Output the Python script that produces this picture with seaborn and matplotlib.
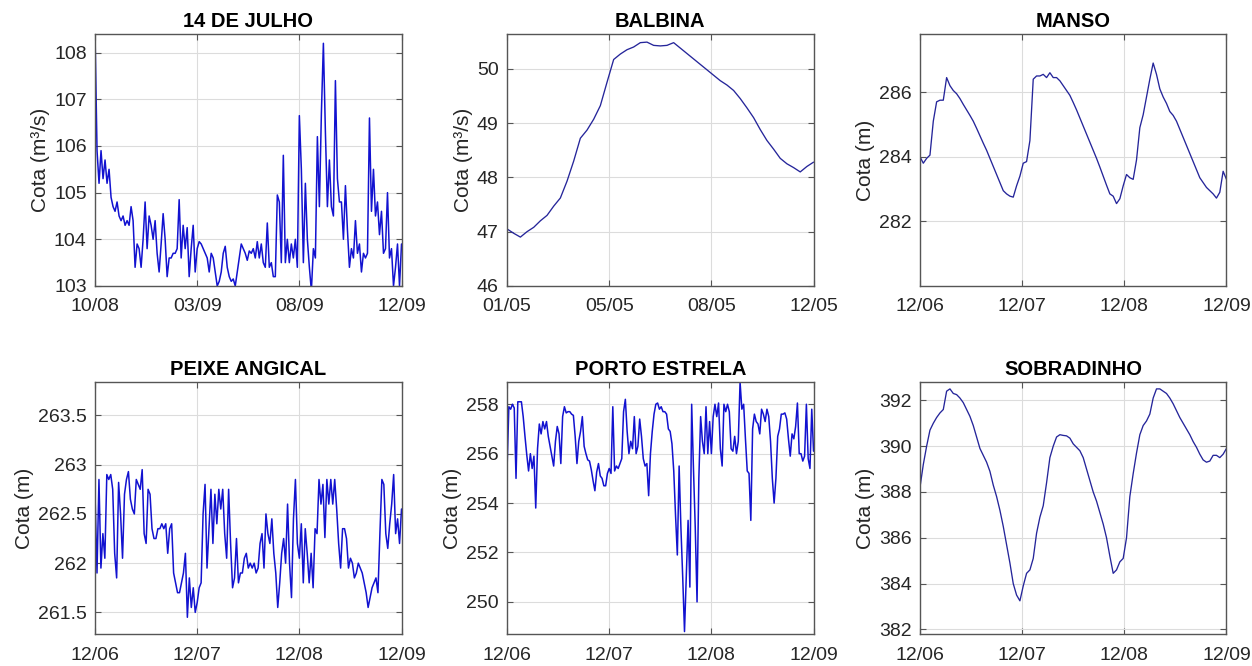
import numpy as np
import pandas as pd
import matplotlib
matplotlib.use("Agg")
import matplotlib.pyplot as plt
import seaborn as sns

# ---------------- data ----------------
titles = ["14 DE JULHO", "BALBINA", "MANSO", "PEIXE ANGICAL", "PORTO ESTRELA", "SOBRADINHO"]
ylabels = ["Cota (m³/s)", "Cota (m³/s)", "Cota (m)", "Cota (m)", "Cota (m)", "Cota (m)"]

xlabels_julho = ["10/08", "03/09", "08/09", "12/09"]
xlabels_balbina = ["01/05", "05/05", "08/05", "12/05"]
xlabels_std = ["12/06", "12/07", "12/08", "12/09"]

julho = [108.4, 105.9, 105.2, 105.9, 105.3, 105.7, 105.2, 105.5, 104.9, 104.7, 104.6, 104.8, 104.5,
         104.4, 104.5, 104.3, 104.4, 104.3, 104.7, 104.4, 103.4, 103.9, 103.8, 103.4, 104.0, 104.8,
         103.8, 104.5, 104.3, 104.0, 104.4, 103.7, 103.3, 103.9, 104.55, 104.0, 103.2, 103.6, 103.6,
         103.7, 103.7, 103.8, 104.85, 103.6, 104.3, 103.8, 104.25, 103.2, 103.8, 104.3, 103.3, 103.8,
         103.95, 103.9, 103.8, 103.7, 103.6, 103.3, 103.7, 103.6, 103.3, 103.0, 103.1, 103.3, 103.7,
         103.85, 103.4, 103.2, 103.1, 103.15, 103.0, 103.3, 103.6, 103.9, 103.8, 103.7, 103.55, 103.75,
         103.7, 103.8, 103.6, 103.95, 103.6, 103.9, 103.5, 103.4, 104.35, 103.4, 103.5, 103.2, 103.2,
         104.95, 104.8, 103.5, 105.8, 103.5, 104.0, 103.5, 103.9, 103.6, 104.0, 103.4, 106.65, 105.5,
         103.5, 105.2, 104.0, 103.4, 102.9, 103.8, 103.6, 106.2, 104.7, 106.7, 108.2, 106.3, 104.7,
         105.7, 104.7, 104.5, 107.4, 105.3, 104.8, 104.8, 104.0, 105.15, 104.2, 103.4, 103.8, 103.6,
         104.4, 103.7, 103.9, 103.3, 103.7, 103.6, 103.7, 106.6, 104.6, 105.5, 104.5, 104.8, 104.1,
         104.6, 103.7, 103.8, 105.0, 103.6, 103.8, 103.0, 103.4, 103.9, 103.0, 103.9]

balbina = [47.05, 46.97, 46.9, 47.0, 47.08, 47.2, 47.3, 47.47, 47.62, 47.93, 48.3, 48.72, 48.87,
           49.07, 49.32, 49.75, 50.17, 50.27, 50.35, 50.4, 50.48, 50.49, 50.43, 50.42, 50.43, 50.48,
           50.38, 50.28, 50.18, 50.08, 49.98, 49.88, 49.78, 49.7, 49.6, 49.45, 49.28, 49.1, 48.88,
           48.68, 48.52, 48.35, 48.25, 48.18, 48.1, 48.2, 48.28]

manso = [284.0, 283.8, 283.95, 284.05, 285.1, 285.7, 285.75, 285.75, 286.45, 286.2, 286.05, 285.95,
         285.8, 285.62, 285.45, 285.28, 285.1, 284.88, 284.65, 284.42, 284.2, 283.95, 283.7, 283.45,
         283.2, 282.95, 282.85, 282.78, 282.75, 283.1, 283.4, 283.8, 283.85, 284.5, 286.4, 286.5,
         286.5, 286.55, 286.45, 286.6, 286.45, 286.45, 286.35, 286.2, 286.05, 285.9, 285.68, 285.45,
         285.2, 284.95, 284.7, 284.45, 284.2, 283.95, 283.68, 283.4, 283.12, 282.85, 282.78, 282.55,
         282.7, 283.1, 283.45, 283.35, 283.3, 283.9, 284.9, 285.3, 285.85, 286.4, 286.9, 286.55,
         286.1, 285.85, 285.65, 285.4, 285.28, 285.1, 284.85, 284.6, 284.35, 284.1, 283.85, 283.6,
         283.35, 283.2, 283.05, 282.95, 282.85, 282.72, 282.9, 283.55, 283.3]

peixe = [262.7, 261.9, 262.85, 261.95, 262.3, 262.05, 262.9, 262.85, 262.9, 262.75, 262.1, 261.85,
         262.82, 262.5, 262.05, 262.7, 262.85, 262.93, 262.65, 262.55, 262.5, 262.85, 262.8, 262.75,
         262.95, 262.3, 262.2, 262.75, 262.7, 262.35, 262.25, 262.25, 262.35, 262.35, 262.4, 262.35,
         262.4, 262.1, 262.35, 262.4, 261.9, 261.8, 261.7, 261.7, 261.8, 261.9, 262.1, 261.45,
         261.85, 261.55, 261.75, 261.5, 261.6, 261.75, 261.8, 262.5, 262.8, 261.95, 262.35, 262.75,
         262.2, 262.7, 262.4, 262.75, 262.55, 262.75, 262.3, 262.05, 262.75, 262.2, 261.75, 261.85,
         262.25, 261.8, 261.9,
         261.9, 262.05, 262.1, 261.95, 262.0, 261.95, 262.0, 261.9, 261.95, 262.2, 262.3, 261.95,
         262.5, 262.3, 262.2, 262.45, 262.1, 261.9, 261.55, 261.8, 262.1, 262.25, 262.0, 262.6,
         262.0, 261.65, 262.45, 262.85, 262.2, 262.05, 262.4, 261.8, 262.35, 262.1, 261.8, 262.1,
         261.75, 262.35, 262.3, 262.85, 262.6, 262.8, 262.26, 262.85, 262.6, 262.85, 262.6, 262.85,
         262.55, 262.2, 261.95, 262.35, 262.35, 262.25, 261.95, 262.05, 262.0, 261.85, 261.9, 262.0,
         261.95, 261.9, 261.8, 261.7, 261.55, 261.65, 261.75, 261.8, 261.85, 261.7, 262.3, 262.85,
         262.8, 262.3, 262.15, 262.4, 262.6, 262.9, 262.3, 262.45, 262.2, 262.55]

porto = [255.4, 257.9, 257.8, 258.0, 257.85, 255.0, 258.1, 258.1, 258.1, 257.5, 256.7, 255.95,
         255.3, 256.0, 255.4, 255.9, 253.8, 256.2, 257.2, 256.8, 257.3, 257.0, 257.3, 256.7, 256.3,
         255.9, 255.5, 256.5, 257.1, 256.8, 255.6, 257.5, 257.9, 257.65, 257.7, 257.7, 257.6, 257.55,
         256.7, 255.6, 256.5, 256.9, 257.5, 256.3, 256.0, 255.75, 255.7, 255.35, 254.9, 254.5, 255.25,
         255.6, 255.1, 255.0, 254.7, 254.7, 255.2, 255.4, 255.2, 257.9, 255.3, 255.5, 255.4, 255.6,
         255.8, 257.7, 258.2, 256.9, 256.0, 256.5, 256.2, 257.5, 256.0, 256.3, 257.4, 256.7, 255.8,
         255.5, 255.6, 254.3, 256.0, 256.9, 257.6, 258.0, 258.05, 257.8, 257.9, 257.7,
         257.7, 257.6, 257.0, 256.9, 256.4, 255.3, 253.5, 251.9, 255.5, 253.0, 251.0, 248.8, 251.0,
         253.3, 250.6, 258.0, 255.4, 253.0, 250.0, 255.0, 257.5, 256.5, 256.0, 257.9, 256.0, 257.3,
         256.0, 257.5, 258.0, 257.5, 258.05, 256.2, 255.5, 258.0, 257.7, 258.0, 257.7, 256.2, 256.1,
         256.7, 256.0, 256.5, 258.9, 257.8, 258.0, 256.6, 255.3, 255.2, 253.3, 257.0, 257.6, 257.3,
         257.2, 256.8, 257.8, 257.6, 257.3, 257.8, 257.5, 256.5, 255.0, 254.0, 255.0, 256.7, 257.0,
         257.6, 257.6, 257.65, 257.4, 256.6, 255.9, 256.8, 256.6, 257.1, 258.05, 256.0, 256.0, 255.7,
         255.9, 258.0, 255.8, 255.4, 257.8, 256.1]

sobradinho = [388.2, 389.2, 390.0, 390.7, 391.0, 391.25, 391.45, 391.6, 392.4, 392.5, 392.3, 392.25,
              392.1, 391.9, 391.6, 391.3, 390.9, 390.4, 389.9, 389.6, 389.3, 388.9, 388.3, 387.8,
              387.2, 386.5, 385.7, 384.9, 384.0, 383.5, 383.25, 383.9, 384.45, 384.6, 385.1, 386.2,
              386.9, 387.4, 388.4, 389.5, 390.0, 390.4, 390.5, 390.47, 390.45, 390.35, 390.1, 389.95,
              389.8, 389.5, 389.0, 388.5, 388.0, 387.6, 387.1, 386.6, 386.0, 385.2, 384.45, 384.6,
              384.95, 385.1, 386.0, 387.8, 388.8, 389.7, 390.5, 390.9, 391.1, 391.4, 392.1, 392.5,
              392.5, 392.4, 392.3, 392.1, 391.85, 391.55, 391.25, 391.0, 390.75, 390.5, 390.2, 389.95,
              389.65, 389.4, 389.3, 389.35, 389.6, 389.6, 389.5, 389.65, 389.9]

series = [julho, balbina, manso, peixe, porto, sobradinho]
xticklabels = [xlabels_julho, xlabels_balbina, xlabels_std, xlabels_std, xlabels_std, xlabels_std]
yticks = [[103, 104, 105, 106, 107, 108],
          [46, 47, 48, 49, 50],
          [282, 284, 286],
          [261.5, 262, 262.5, 263, 263.5],
          [250, 252, 254, 256, 258],
          [382, 384, 386, 388, 390, 392]]
yticklabels = [None, None, None, ["261.5", "262", "262.5", "263", "263.5"], None, None]
ylims = [(103, 108.4), (46, 50.64), (280, 287.8), (261.28, 263.84), (248.7, 258.9), (381.8, 392.8)]

# ---------------- style ----------------
sns.set_theme(style="whitegrid")
plt.rcParams["font.family"] = ["Liberation Sans", "DejaVu Sans"]

fig = plt.figure(figsize=(12.52, 6.66), dpi=100)
lefts = [0.0759, 0.4050, 0.7348]
bottoms = [0.5706, 0.0480]
w, h = 0.2448, 0.3784
colors = ["#1212d0", "#25259a", "#25259a", "#1212d0", "#1212d0", "#25259a"]
lws = [1.1, 0.95, 0.95, 1.1, 1.1, 0.95]

for i in range(6):
    r, c = divmod(i, 3)
    ax = fig.add_axes([lefts[c], bottoms[r], w, h])
    y = np.asarray(series[i], dtype=float)
    x = np.linspace(0, 3, len(y))
    df = pd.DataFrame({"x": x, "y": y})
    sns.lineplot(data=df, x="x", y="y", ax=ax, color=colors[i], lw=lws[i], estimator=None)
    ax.set_xlim(0, 3)
    ax.set_ylim(*ylims[i])
    ax.set_xticks([0, 1, 2, 3])
    ax.set_xticklabels(xticklabels[i])
    ax.set_yticks(yticks[i])
    if yticklabels[i] is not None:
        ax.set_yticklabels(yticklabels[i])
    ax.set_xlabel("")
    ax.set_ylabel(ylabels[i], fontsize=15, color="#262626", labelpad=3)
    ax.set_title(titles[i], fontsize=14.5, fontweight="bold", color="black", pad=5)
    ax.grid(True, color="#dcdcdc", lw=0.8)
    ax.tick_params(axis="both", which="both", direction="in", length=4, width=0.8,
                   colors="#555555", labelcolor="#262626", labelsize=14,
                   top=True, right=True, bottom=True, left=True)
    ax.tick_params(axis="x", pad=9)
    ax.tick_params(axis="y", pad=6)
    for s in ax.spines.values():
        s.set_visible(True)
        s.set_color("#555555")
        s.set_linewidth(1.0)
    ax.set_facecolor("white")

fig.savefig("out.png", dpi=100, facecolor="white")
